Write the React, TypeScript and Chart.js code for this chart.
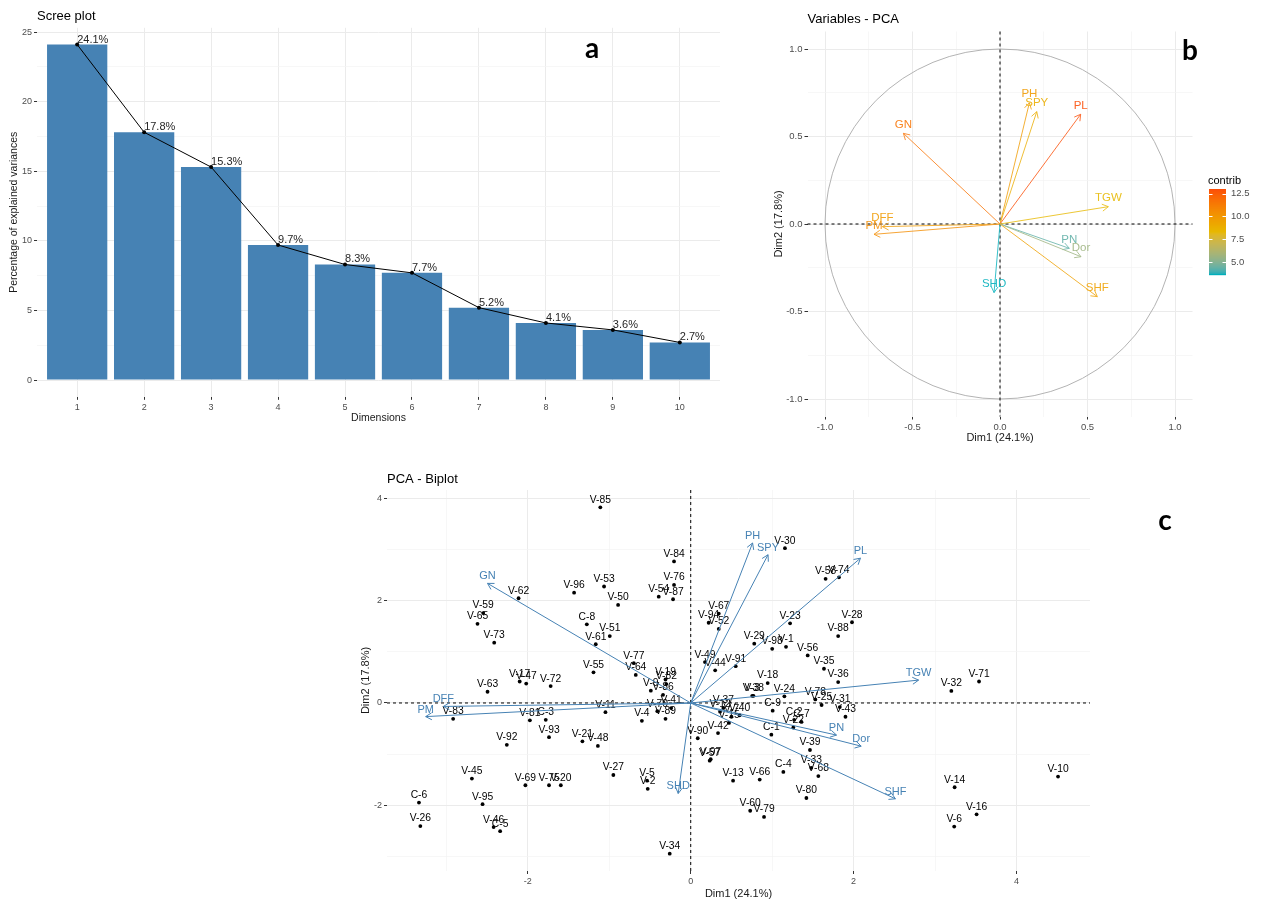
import React, { useEffect, useRef } from "react";
import { Chart, registerables } from "chart.js";
Chart.register(...registerables);

// ---------------- data ----------------
// Panel a: scree plot
const dims = [1, 2, 3, 4, 5, 6, 7, 8, 9, 10];
const variancePct = [24.1, 17.8, 15.3, 9.7, 8.3, 7.7, 5.2, 4.1, 3.6, 2.7];

// Panel b: variables (correlation circle)
const varNames = ["GN", "PH", "SPY", "PL", "TGW", "DFF", "PM", "PN", "Dor", "SHD", "SHF"];
const varDim1 = [-0.552, 0.168, 0.21, 0.461, 0.619, -0.672, -0.72, 0.396, 0.463, -0.034, 0.556];
const varDim2 = [0.518, 0.693, 0.642, 0.627, 0.099, -0.015, -0.059, -0.139, -0.187, -0.392, -0.415];
const varContrib = [11.6, 9.8, 8.9, 13.0, 8.3, 9.8, 10.5, 4.3, 5.6, 3.6, 9.5];
const contribTicks = [5.0, 7.5, 10.0, 12.5];
const contribPalette = ["#00AFBB", "#E7B800", "#FC4E07"];

// Panel c: biplot individuals
const indNames = [
  "V-85", "V-84", "V-76", "V-87", "V-54", "V-53", "V-96", "V-50", "V-62", "V-59",
  "V-65", "V-73", "C-8", "V-51", "V-61", "V-77", "V-64", "V-55", "V-19", "V-82",
  "V-9", "V-86", "V-70", "V-41", "V-89", "V-4", "V-11", "V-63", "V-17", "V-47",
  "V-72", "V-83", "V-81", "C-3", "V-93", "V-92", "V-21", "V-48", "V-45", "V-69",
  "V-75", "V-20", "V-27", "V-5", "V-2", "C-6", "V-26", "V-95", "V-46", "C-5",
  "V-34", "V-90", "V-97", "V-57", "V-13", "V-66", "C-4", "V-60", "V-79", "V-80",
  "V-33", "V-68", "V-39", "C-1", "V-42", "V-15", "V-40", "V-37", "V-12", "V-7",
  "V-3", "V-38", "V-18", "V-24", "C-9", "C-2", "C-7", "V-22", "V-78", "V-25",
  "V-31", "V-43", "V-36", "V-35", "V-56", "V-91", "V-44", "V-49", "V-30", "V-58",
  "V-74", "V-28", "V-88", "V-23", "V-1", "V-98", "V-29", "V-67", "V-94", "V-52",
  "V-32", "V-71", "V-10", "V-14", "V-16", "V-6",
];
const indDim1 = [
  -1.11, -0.205, -0.205, -0.217, -0.393, -1.064, -1.432, -0.892, -2.114, -2.548,
  -2.618, -2.413, -1.276, -0.994, -1.166, -0.699, -0.675, -1.194, -0.31, -0.3,
  -0.49, -0.34, -0.41, -0.24, -0.31, -0.6, -1.047, -2.495, -2.1, -2.02,
  -1.72, -2.917, -1.975, -1.78, -1.74, -2.258, -1.33, -1.14, -2.687, -2.03,
  -1.74, -1.595, -0.95, -0.536, -0.528, -3.337, -3.32, -2.556, -2.42, -2.34,
  -0.258, 0.086, 0.245, 0.233, 0.52, 0.847, 1.137, 0.73, 0.9, 1.42,
  1.48, 1.567, 1.464, 0.99, 0.335, 0.47, 0.6, 0.4, 0.36, 0.5,
  0.755, 0.77, 0.945, 1.15, 1.006, 1.27, 1.36, 1.26, 1.53, 1.607,
  1.83, 1.9, 1.81, 1.636, 1.436, 0.552, 0.3, 0.175, 1.157, 1.656,
  1.82, 1.98, 1.81, 1.22, 1.17, 1.0, 0.78, 0.344, 0.22, 0.344,
  3.2, 3.54, 4.51, 3.24, 3.51, 3.235,
];
const indDim2 = [
  3.83, 2.77, 2.31, 2.03, 2.08, 2.28, 2.16, 1.92, 2.05, 1.76,
  1.55, 1.18, 1.54, 1.31, 1.15, 0.78, 0.55, 0.6, 0.46, 0.37,
  0.24, 0.16, -0.16, -0.1, -0.31, -0.35, -0.18, 0.22, 0.42, 0.38,
  0.33, -0.31, -0.34, -0.33, -0.67, -0.82, -0.75, -0.84, -1.48, -1.61,
  -1.61, -1.61, -1.41, -1.52, -1.68, -1.95, -2.41, -1.98, -2.43, -2.51,
  -2.95, -0.69, -1.1, -1.13, -1.52, -1.5, -1.35, -2.11, -2.23, -1.86,
  -1.27, -1.43, -0.92, -0.62, -0.59, -0.39, -0.24, -0.1, -0.17, -0.27,
  0.14, 0.14, 0.39, 0.13, -0.15, -0.33, -0.37, -0.48, 0.07, -0.04,
  -0.08, -0.27, 0.41, 0.67, 0.93, 0.72, 0.64, 0.8, 3.03, 2.43,
  2.46, 1.58, 1.31, 1.56, 1.1, 1.06, 1.16, 1.75, 1.57, 1.45,
  0.235, 0.42, -1.44, -1.65, -2.18, -2.42,
];
const biplotArrowScale = 4.52;

// ---------------- helpers ----------------
const FONT = '"Liberation Sans", Arial, Helvetica, sans-serif';
const LETTER_FONT = 'bold 28px Lato, "Open Sans", sans-serif';
const GRID_MAJOR = "#EBEBEB";
const GRID_MINOR = "#F3F3F3";
const TICK_TEXT = "#4D4D4D";
const STEEL = "#4682B4";

const near = (v: number, step: number) => Math.abs(v - Math.round(v / step) * step) < 1e-6;

function gridOpts(isMajor: (v: number) => boolean) {
  return {
    color: (c: any) => (isMajor(c.tick?.value) ? GRID_MAJOR : GRID_MINOR),
    lineWidth: (c: any) => (isMajor(c.tick?.value) ? 1 : 0.7),
    tickColor: (c: any) => (isMajor(c.tick?.value) ? "#333333" : "rgba(0,0,0,0)"),
    tickLength: 3,
    drawTicks: true,
    drawOnChartArea: true,
    offset: false,
  };
}

function stepTicks(min: number, max: number, step: number) {
  const out: { value: number }[] = [];
  const start = Math.ceil(min / step - 1e-9) * step;
  for (let v = start; v <= max + 1e-9; v += step) out.push({ value: Math.round(v * 1000) / 1000 });
  return out;
}

// CIELAB interpolation (as ggplot's gradientn does)
function hexRgb(h: string) {
  const n = parseInt(h.slice(1), 16);
  return [(n >> 16) & 255, (n >> 8) & 255, n & 255];
}
const WX = 0.95047, WY = 1, WZ = 1.08883;
function toLab(rgb: number[]) {
  const [r, g, b] = rgb.map((c) => {
    const v = c / 255;
    return v <= 0.04045 ? v / 12.92 : Math.pow((v + 0.055) / 1.055, 2.4);
  });
  const X = (0.4124 * r + 0.3576 * g + 0.1805 * b) / WX;
  const Y = (0.2126 * r + 0.7152 * g + 0.0722 * b) / WY;
  const Z = (0.0193 * r + 0.1192 * g + 0.9505 * b) / WZ;
  const f = (t: number) => (t > 0.008856 ? Math.cbrt(t) : 7.787 * t + 16 / 116);
  const fx = f(X), fy = f(Y), fz = f(Z);
  return [116 * fy - 16, 500 * (fx - fy), 200 * (fy - fz)];
}
function fromLab(lab: number[]) {
  const fy = (lab[0] + 16) / 116;
  const fx = fy + lab[1] / 500;
  const fz = fy - lab[2] / 200;
  const inv = (t: number) => (t * t * t > 0.008856 ? t * t * t : (t - 16 / 116) / 7.787);
  const X = inv(fx) * WX, Y = inv(fy) * WY, Z = inv(fz) * WZ;
  const r = 3.2406 * X - 1.5372 * Y - 0.4986 * Z;
  const g = -0.9689 * X + 1.8758 * Y + 0.0415 * Z;
  const b = 0.0557 * X - 0.204 * Y + 1.057 * Z;
  return [r, g, b].map((v) => {
    const c = v <= 0.0031308 ? 12.92 * v : 1.055 * Math.pow(v, 1 / 2.4) - 0.055;
    return Math.max(0, Math.min(255, Math.round(c * 255)));
  });
}
const paletteLab = contribPalette.map((h) => toLab(hexRgb(h)));
function gradRgb(t: number) {
  t = Math.max(0, Math.min(1, t));
  const seg = t < 0.5 ? 0 : 1;
  const lt = seg === 0 ? t / 0.5 : (t - 0.5) / 0.5;
  const a = paletteLab[seg];
  const b = paletteLab[seg + 1];
  return fromLab(a.map((v, i) => v + (b[i] - v) * lt));
}
function gradColor(t: number, soften = 0) {
  const c = gradRgb(t).map((v) => Math.round(v + (255 - v) * soften));
  return `rgb(${c[0]},${c[1]},${c[2]})`;
}
const cMin = Math.min(...varContrib);
const cMax = Math.max(...varContrib);
const contribColor = (v: number) => gradColor((v - cMin) / (cMax - cMin), 0.12);

function drawArrow(ctx: CanvasRenderingContext2D, x0: number, y0: number, x1: number, y1: number, color: string, len = 7, lw = 1) {
  ctx.save();
  ctx.strokeStyle = color;
  ctx.lineWidth = lw;
  ctx.beginPath();
  ctx.moveTo(x0, y0);
  ctx.lineTo(x1, y1);
  ctx.stroke();
  const a = Math.atan2(y1 - y0, x1 - x0);
  ctx.beginPath();
  ctx.moveTo(x1 - len * Math.cos(a - Math.PI / 6), y1 - len * Math.sin(a - Math.PI / 6));
  ctx.lineTo(x1, y1);
  ctx.lineTo(x1 - len * Math.cos(a + Math.PI / 6), y1 - len * Math.sin(a + Math.PI / 6));
  ctx.stroke();
  ctx.restore();
}

function text(ctx: CanvasRenderingContext2D, s: string, x: number, y: number, font: string, color: string, align: CanvasTextAlign = "left", base: CanvasTextBaseline = "alphabetic") {
  ctx.save();
  ctx.font = font;
  ctx.fillStyle = color;
  ctx.textAlign = align;
  ctx.textBaseline = base;
  ctx.fillText(s, x, y);
  ctx.restore();
}
function vtext(ctx: CanvasRenderingContext2D, s: string, x: number, y: number, font: string, color: string) {
  ctx.save();
  ctx.translate(x, y);
  ctx.rotate(-Math.PI / 2);
  ctx.font = font;
  ctx.fillStyle = color;
  ctx.textAlign = "center";
  ctx.textBaseline = "middle";
  ctx.fillText(s, 0, 0);
  ctx.restore();
}

function zeroLines(chart: any) {
  const { ctx, chartArea: ca, scales } = chart;
  const x0 = scales.x.getPixelForValue(0);
  const y0 = scales.y.getPixelForValue(0);
  ctx.save();
  ctx.strokeStyle = "#000";
  ctx.lineWidth = 1;
  ctx.setLineDash([3, 3]);
  ctx.beginPath();
  ctx.moveTo(x0, ca.top);
  ctx.lineTo(x0, ca.bottom);
  ctx.moveTo(ca.left, y0);
  ctx.lineTo(ca.right, y0);
  ctx.stroke();
  ctx.restore();
}

// ---------------- charts ----------------
function makeScree(canvas: HTMLCanvasElement) {
  const maxV = Math.max(...variancePct);
  const yMin = -0.05 * maxV;
  const yMax = maxV * 1.05;
  const pts = dims.map((d, i) => ({ x: d, y: variancePct[i] }));
  const plugin = {
    id: "screeDeco",
    afterDatasetsDraw(chart: any) {
      const { ctx, scales } = chart;
      dims.forEach((d, i) => {
        const px = scales.x.getPixelForValue(d);
        const py = scales.y.getPixelForValue(variancePct[i]);
        text(ctx, `${variancePct[i].toFixed(1)}%`, px, py - 2, `11px ${FONT}`, "#262626", "left");
      });
    },
    afterDraw(chart: any) {
      const { ctx, chartArea: ca } = chart;
      text(ctx, "Scree plot", ca.left, 19.5, `13px ${FONT}`, "#000");
      vtext(ctx, "Percentage of explained variances", 14, (ca.top + ca.bottom) / 2, `10.5px ${FONT}`, "#1A1A1A");
      text(ctx, "Dimensions", (ca.left + ca.right) / 2, 418, `10.5px ${FONT}`, "#1A1A1A", "center", "middle");
      text(ctx, "a", 592, 58, LETTER_FONT, "#000", "center");
    },
  };
  return new Chart(canvas, {
    type: "bar",
    data: {
      datasets: [
        {
          type: "line",
          data: pts,
          borderColor: "#000",
          borderWidth: 1,
          pointRadius: 2,
          pointBackgroundColor: "#000",
          pointBorderWidth: 0,
          order: 0,
        } as any,
        {
          type: "bar",
          data: pts,
          backgroundColor: "#4682B4",
          borderWidth: 0,
          barPercentage: 0.9,
          categoryPercentage: 1,
          order: 1,
        } as any,
      ],
    },
    options: {
      responsive: false,
      animation: false,
      events: [],
      layout: { padding: { left: 0, right: 20, top: 27.8, bottom: 3.2 } },
      plugins: { legend: { display: false }, tooltip: { enabled: false } },
      scales: {
        x: {
          type: "linear",
          offset: false,
          min: dims[0] - 0.6,
          max: dims[dims.length - 1] + 0.6,
          afterBuildTicks: (s: any) => {
            s.ticks = dims.map((v) => ({ value: v }));
          },
          afterFit: (s: any) => {
            s.height = 30;
          },
          ticks: { autoSkip: false, maxRotation: 0, padding: 2, color: TICK_TEXT, font: { family: FONT, size: 9 }, callback: (v: any) => String(v) },
          grid: gridOpts(() => true),
          border: { display: false },
        },
        y: {
          type: "linear",
          min: yMin,
          max: yMax,
          afterBuildTicks: (s: any) => {
            s.ticks = stepTicks(yMin, yMax, 2.5);
          },
          afterFit: (s: any) => {
            s.width = 37;
          },
          ticks: { autoSkip: false, padding: 2, color: TICK_TEXT, font: { family: FONT, size: 9 }, callback: (v: any) => (near(v, 5) ? String(v) : "") },
          grid: gridOpts((v) => near(v, 5)),
          border: { display: false },
        },
      },
    } as any,
    plugins: [plugin],
  });
}

function makeVar(canvas: HTMLCanvasElement) {
  const lim = 1.1;
  const plugin = {
    id: "varDeco",
    beforeDatasetsDraw(chart: any) {
      const { ctx, scales } = chart;
      const cx = scales.x.getPixelForValue(0);
      const cy = scales.y.getPixelForValue(0);
      const rx = scales.x.getPixelForValue(1) - cx;
      const ry = cy - scales.y.getPixelForValue(1);
      ctx.save();
      ctx.strokeStyle = "#B3B3B3";
      ctx.lineWidth = 1;
      ctx.beginPath();
      ctx.ellipse(cx, cy, rx, ry, 0, 0, Math.PI * 2);
      ctx.stroke();
      ctx.restore();
      zeroLines(chart);
    },
    afterDatasetsDraw(chart: any) {
      const { ctx, scales } = chart;
      const cx = scales.x.getPixelForValue(0);
      const cy = scales.y.getPixelForValue(0);
      varNames.forEach((n, i) => {
        const px = scales.x.getPixelForValue(varDim1[i]);
        const py = scales.y.getPixelForValue(varDim2[i]);
        drawArrow(ctx, cx, cy, px, py, contribColor(varContrib[i]), 7, 0.9);
      });
      varNames.forEach((n, i) => {
        const px = scales.x.getPixelForValue(varDim1[i]);
        const py = scales.y.getPixelForValue(varDim2[i]);
        text(ctx, n, px, py - 5.5, `11.5px ${FONT}`, contribColor(varContrib[i]), "center");
      });
    },
    afterDraw(chart: any) {
      const { ctx, chartArea: ca } = chart;
      text(ctx, "Variables - PCA", ca.left, 22.5, `13px ${FONT}`, "#000");
      vtext(ctx, "Dim2 (17.8%)", 19, (ca.top + ca.bottom) / 2, `11px ${FONT}`, "#1A1A1A");
      text(ctx, "Dim1 (24.1%)", (ca.left + ca.right) / 2, 441, `11px ${FONT}`, "#1A1A1A", "center");
      text(ctx, "b", 430, 60, LETTER_FONT, "#000", "center");
      // legend
      const bx = ca.right + 16.5;
      const bw = 17;
      const top = 189;
      const bot = 275;
      const yOf = (v: number) => bot - ((v - cMin) / (cMax - cMin)) * (bot - top);
      text(ctx, "contrib", bx - 1, 184, `11px ${FONT}`, "#000");
      for (let k = 0; k < 86; k++) {
        const t = 1 - k / 85;
        ctx.fillStyle = gradColor(t, 0);
        ctx.fillRect(bx, top + k, bw, 1.2);
      }
      ctx.save();
      ctx.strokeStyle = "#fff";
      ctx.lineWidth = 1;
      contribTicks.forEach((t) => {
        const y = Math.round(yOf(t)) + 0.5;
        ctx.beginPath();
        ctx.moveTo(bx, y);
        ctx.lineTo(bx + 3.5, y);
        ctx.moveTo(bx + bw - 3.5, y);
        ctx.lineTo(bx + bw, y);
        ctx.stroke();
        text(ctx, t.toFixed(1), bx + bw + 5, yOf(t), `9.5px ${FONT}`, TICK_TEXT, "left", "middle");
      });
      ctx.restore();
    },
  };
  return new Chart(canvas, {
    type: "scatter",
    data: { datasets: [{ data: varDim1.map((x, i) => ({ x, y: varDim2[i] })), pointRadius: 0 }] },
    options: {
      responsive: false,
      animation: false,
      events: [],
      layout: { padding: { left: 0, right: 70.5, top: 31.5, bottom: 11.5 } },
      plugins: { legend: { display: false }, tooltip: { enabled: false } },
      scales: {
        x: {
          type: "linear",
          min: -lim,
          max: lim,
          afterBuildTicks: (s: any) => {
            s.ticks = stepTicks(-lim, lim, 0.25);
          },
          afterFit: (s: any) => {
            s.height = 22;
          },
          ticks: { autoSkip: false, maxRotation: 0, padding: 2, color: TICK_TEXT, font: { family: FONT, size: 9.5 }, callback: (v: any) => (near(v, 0.5) ? Number(v).toFixed(1) : "") },
          grid: gridOpts((v) => near(v, 0.5)),
          border: { display: false },
        },
        y: {
          type: "linear",
          min: -lim,
          max: lim,
          afterBuildTicks: (s: any) => {
            s.ticks = stepTicks(-lim, lim, 0.25);
          },
          afterFit: (s: any) => {
            s.width = 47.5;
          },
          ticks: { autoSkip: false, padding: 2, color: TICK_TEXT, font: { family: FONT, size: 9.5 }, callback: (v: any) => (near(v, 0.5) ? Number(v).toFixed(1) : "") },
          grid: gridOpts((v) => near(v, 0.5)),
          border: { display: false },
        },
      },
    } as any,
    plugins: [plugin],
  });
}

function makeBiplot(canvas: HTMLCanvasElement) {
  const xLo = Math.min(...indDim1), xHi = Math.max(...indDim1);
  const yLo = Math.min(...indDim2), yHi = Math.max(...indDim2);
  const xMin = xLo - 0.05 * (xHi - xLo), xMax = xHi + 0.05 * (xHi - xLo);
  const yMin = yLo - 0.05 * (yHi - yLo), yMax = yHi + 0.05 * (yHi - yLo);
  const plugin = {
    id: "biDeco",
    beforeDatasetsDraw(chart: any) {
      zeroLines(chart);
    },
    afterDatasetsDraw(chart: any) {
      const { ctx, scales } = chart;
      indNames.forEach((n, i) => {
        const px = scales.x.getPixelForValue(indDim1[i]);
        const py = scales.y.getPixelForValue(indDim2[i]);
        text(ctx, n, px, py - 4.6, `10.3px ${FONT}`, "#000", "center");
      });
      const cx = scales.x.getPixelForValue(0);
      const cy = scales.y.getPixelForValue(0);
      varNames.forEach((n, i) => {
        const px = scales.x.getPixelForValue(varDim1[i] * biplotArrowScale);
        const py = scales.y.getPixelForValue(varDim2[i] * biplotArrowScale);
        drawArrow(ctx, cx, cy, px, py, STEEL, 7);
      });
      varNames.forEach((n, i) => {
        const px = scales.x.getPixelForValue(varDim1[i] * biplotArrowScale);
        const py = scales.y.getPixelForValue(varDim2[i] * biplotArrowScale);
        text(ctx, n, px, py - 4, `11px ${FONT}`, STEEL, "center");
      });
    },
    afterDraw(chart: any) {
      const { ctx, chartArea: ca } = chart;
      text(ctx, "PCA - Biplot", ca.left, 17.5, `13px ${FONT}`, "#000");
      vtext(ctx, "Dim2 (17.8%)", 26, (ca.top + ca.bottom) / 2, `11px ${FONT}`, "#1A1A1A");
      text(ctx, "Dim1 (24.1%)", (ca.left + ca.right) / 2, 432, `11px ${FONT}`, "#1A1A1A", "center");
      text(ctx, "c", 825, 65, LETTER_FONT, "#000", "center");
    },
  };
  return new Chart(canvas, {
    type: "scatter",
    data: {
      datasets: [
        {
          data: indDim1.map((x, i) => ({ x, y: indDim2[i] })),
          pointRadius: 1.9,
          pointBackgroundColor: "#000",
          pointBorderWidth: 0,
        },
      ],
    },
    options: {
      responsive: false,
      animation: false,
      events: [],
      layout: { padding: { left: 0, right: 173, top: 25, bottom: 2 } },
      plugins: { legend: { display: false }, tooltip: { enabled: false } },
      scales: {
        x: {
          type: "linear",
          min: xMin,
          max: xMax,
          afterBuildTicks: (s: any) => {
            s.ticks = stepTicks(xMin, xMax, 1);
          },
          afterFit: (s: any) => {
            s.height = 28;
          },
          ticks: { autoSkip: false, maxRotation: 0, padding: 2, color: TICK_TEXT, font: { family: FONT, size: 9 }, callback: (v: any) => (near(v, 2) ? String(Math.round(v)) : "") },
          grid: gridOpts((v) => near(v, 2)),
          border: { display: false },
        },
        y: {
          type: "linear",
          min: yMin,
          max: yMax,
          afterBuildTicks: (s: any) => {
            s.ticks = stepTicks(yMin, yMax, 1);
          },
          afterFit: (s: any) => {
            s.width = 47;
          },
          ticks: { autoSkip: false, padding: 2, color: TICK_TEXT, font: { family: FONT, size: 9 }, callback: (v: any) => (near(v, 2) ? String(Math.round(v)) : "") },
          grid: gridOpts((v) => near(v, 2)),
          border: { display: false },
        },
      },
    } as any,
    plugins: [plugin],
  });
}

export default function App() {
  const aRef = useRef<HTMLCanvasElement>(null);
  const bRef = useRef<HTMLCanvasElement>(null);
  const cRef = useRef<HTMLCanvasElement>(null);
  useEffect(() => {
    const charts: Chart[] = [];
    if (aRef.current) charts.push(makeScree(aRef.current));
    if (bRef.current) charts.push(makeVar(bRef.current));
    if (cRef.current) charts.push(makeBiplot(cRef.current));
    return () => charts.forEach((c) => c.destroy());
  }, []);
  return (
    <div style={{ position: "absolute", left: 0, top: 0, width: 1263, height: 899, background: "#fff", overflow: "hidden" }}>
      <canvas ref={aRef} width={740} height={430} style={{ position: "absolute", left: 0, top: 0 }} />
      <canvas ref={bRef} width={503} height={450} style={{ position: "absolute", left: 760, top: 0 }} />
      <canvas ref={cRef} width={923} height={436} style={{ position: "absolute", left: 340, top: 465 }} />
    </div>
  );
}
